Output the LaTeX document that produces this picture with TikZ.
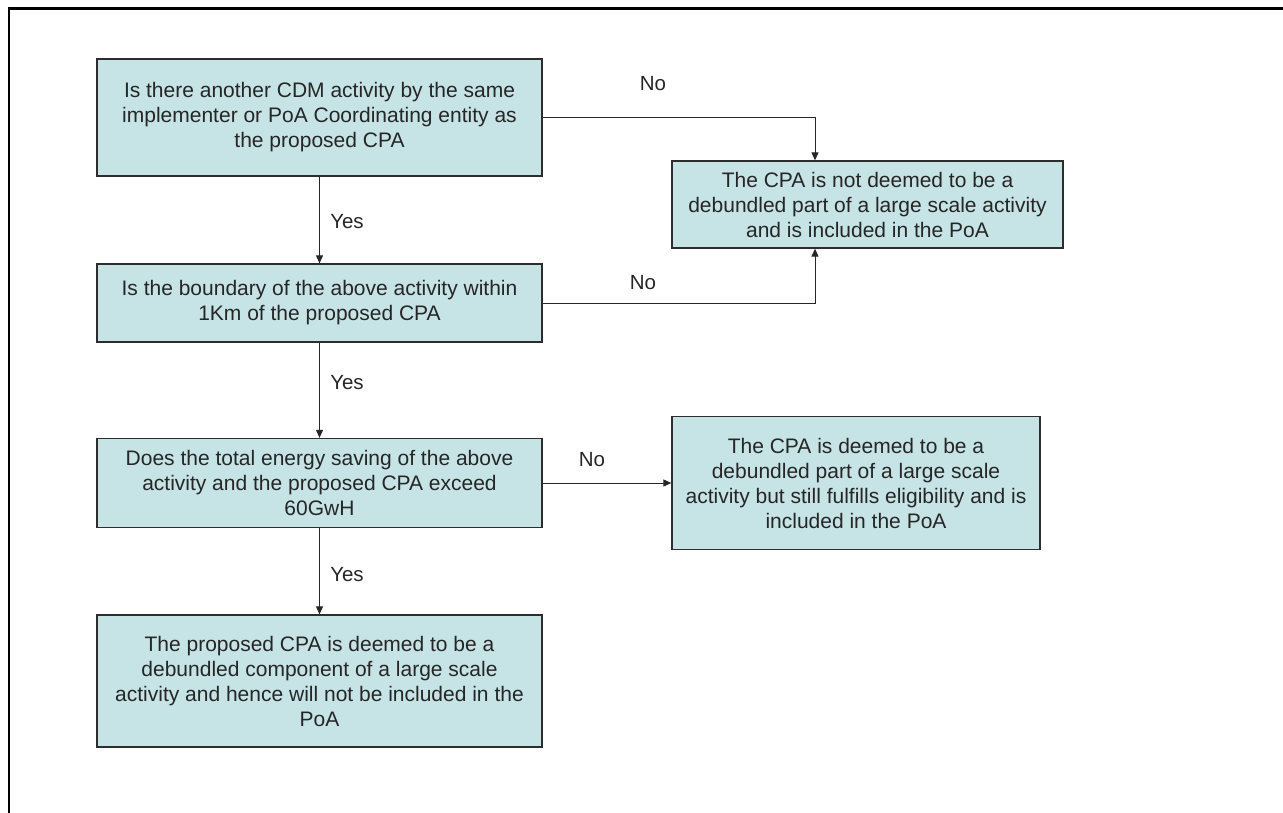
\documentclass[tikz,border=0pt]{standalone}
\usepackage{fontspec}
\setmainfont{Liberation Sans}
\usetikzlibrary{arrows.meta}
\definecolor{boxfill}{RGB}{198,227,230}
\definecolor{boxline}{RGB}{45,45,45}
\tikzset{
  flowbox/.style={draw=boxline, line width=1.3pt, fill=boxfill, align=center,
    inner sep=0pt, font=\fontsize{21}{25}\selectfont, text=black!85},
  conn/.style={draw=black!85, line width=1pt, -{Triangle[length=8pt,width=7pt]}},
  lbl/.style={font=\fontsize{20.5}{24}\selectfont, text=black!85, inner sep=0pt},
  frameline/.style={draw=black, line cap=rect}
}
\begin{document}
\begin{tikzpicture}[x=1pt,y=-1pt]
\useasboundingbox (0,0) rectangle (1283,813);
% page frame (partially visible)
\draw[frameline, line width=3pt] (9,9) -- (1283,9);
\draw[frameline, line width=2pt] (9,9) -- (9,813);

\node[flowbox, minimum width=445pt, minimum height=117pt] (b1) at (319.5,117.5)
  {Is there another CDM activity by the same\\implementer or PoA Coordinating entity as\\the proposed CPA};
\node[flowbox, minimum width=445pt, minimum height=78pt] (b2) at (319.5,303)
  {Is the boundary of the above activity within\\1Km of the proposed CPA};
\node[flowbox, minimum width=445pt, minimum height=89pt] (b3) at (319.5,483)
  {Does the total energy saving of the above\\activity and the proposed CPA exceed\\60GwH};
\node[flowbox, minimum width=445pt, minimum height=132pt] (b4) at (319.5,681)
  {The proposed CPA is deemed to be a\\debundled component of a large scale\\activity and hence will not be included in the\\PoA};
\node[flowbox, minimum width=391pt, minimum height=87pt] (r1) at (867.5,204.5)
  {The CPA is not deemed to be a\\debundled part of a large scale activity\\and is included in the PoA};
\node[flowbox, minimum width=368pt, minimum height=133pt] (r2) at (856,483)
  {The CPA is deemed to be a\\debundled part of a large scale\\activity but still fulfills eligibility and is\\included in the PoA};

\coordinate (jx) at (815,0);

\draw[conn] (b1.south) -- (b2.north);
\draw[conn] (b2.south) -- (b3.north);
\draw[conn] (b3.south) -- (b4.north);
\draw[conn] (b1.east) -| (jx |- r1.north);
\draw[conn] (b2.east) -| (jx |- r1.south);
\draw[conn] (b3.east) -- (r2.west);

\node[lbl] (yes1) at (347,222) {Yes};
\node[lbl] (yes2) at (347,383) {Yes};
\node[lbl] (yes3) at (347,575) {Yes};
\node[lbl] (no1) at (653,84) {No};
\node[lbl] (no2) at (643,283) {No};
\node[lbl] (no3) at (592,460) {No};
\end{tikzpicture}
\end{document}
